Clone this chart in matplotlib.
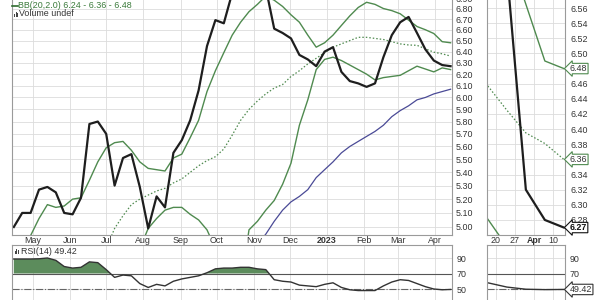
import numpy as np
import matplotlib
matplotlib.use('Agg')
import matplotlib.pyplot as plt
import matplotlib.dates as mdates
from matplotlib.ticker import FixedLocator, FuncFormatter, NullLocator
import datetime as dt

plt.rcParams['font.family'] = ['Liberation Sans', 'DejaVu Sans']

# ---------------- main chart data (weekly, Fridays) ----------------
start_date = dt.date(2022, 4, 15)
n_weeks = 53

close = [5.00, 5.10, 5.10, 5.27, 5.29, 5.25, 5.10, 5.09, 5.21, 5.78,
         5.80, 5.70, 5.30, 5.51, 5.54, 5.29, 4.99, 5.22, 5.14, 5.55,
         5.65, 5.81, 6.06, 6.45, 6.69, 6.66, 6.95, 7.10, 7.20, 7.15,
         7.00, 6.61, 6.57, 6.52, 6.37, 6.33, 6.27, 6.40, 6.44, 6.22,
         6.14, 6.12, 6.09, 6.12, 6.35, 6.55, 6.67, 6.72, 6.57, 6.42,
         6.32, 6.28, 6.27]

bb_upper = [4.70, 4.82, 4.94, 5.06, 5.16, 5.14, 5.15, 5.20, 5.21, 5.34,
            5.48, 5.59, 5.63, 5.64, 5.57, 5.48, 5.43, 5.42, 5.41, 5.51,
            5.54, 5.67, 5.81, 6.05, 6.23, 6.39, 6.55, 6.67, 6.77, 6.84,
            6.92, 6.88, 6.82, 6.74, 6.67, 6.55, 6.44, 6.48, 6.55, 6.64,
            6.73, 6.81, 6.86, 6.84, 6.80, 6.78, 6.75, 6.69, 6.63, 6.60,
            6.565, 6.49, 6.48]

bb_mid = [np.nan] * 11 + [4.85, 4.99, 5.08, 5.16, 5.20, 5.23, 5.26, 5.28, 5.32,
          5.35, 5.40, 5.45, 5.49, 5.52, 5.58, 5.69, 5.81, 5.90, 5.97,
          6.03, 6.08, 6.11, 6.18, 6.23, 6.29, 6.34, 6.39, 6.44, 6.47,
          6.50, 6.53, 6.53, 6.52, 6.51, 6.49, 6.47, 6.46, 6.457, 6.425,
          6.395, 6.38, 6.36]

bb_lower = [np.nan] * 15 + [4.85, 4.99, 5.06, 5.12, 5.14, 5.14, 5.09, 5.05, 4.98,
            4.85, 4.70, 4.60, 4.60, 4.98, 5.04, 5.12, 5.19, 5.31, 5.47,
            5.77, 5.98, 6.24, 6.33, 6.35, 6.32, 6.28, 6.24, 6.20, 6.15,
            6.17, 6.18, 6.19, 6.23, 6.27, 6.245, 6.22, 6.255, 6.24]

ma_purple = [np.nan] * 29 + [4.88, 4.95, 5.04, 5.12, 5.18, 5.22, 5.27, 5.36, 5.42,
             5.48, 5.55, 5.60, 5.64, 5.68, 5.72, 5.77, 5.84, 5.89, 5.93,
             5.98, 6.00, 6.03, 6.05, 6.07]

rsi = [88.7, 88.7, 88.7, 89, 90, 87, 79, 77, 78, 85,
       84, 75, 65, 68, 67, 57, 52, 56, 54, 60,
       63, 65, 67, 71, 76, 77, 77, 78, 78, 76,
       75, 62, 60, 59, 55, 54, 53, 56, 58, 52,
       49, 48, 48, 48, 54, 59, 62, 61, 57, 53,
       50, 49, 49.42]

# ---------------- zoom panel data (last weeks, Fridays) ----------------
zoom_dates = [dt.date(2023, 3, 17), dt.date(2023, 3, 24), dt.date(2023, 3, 31),
              dt.date(2023, 4, 7), dt.date(2023, 4, 14)]
zoom_close = [6.72, 6.61, 6.32, 6.28, 6.27]
zoom_upper = [6.70, 6.64, 6.565, 6.49, 6.48]
zoom_mid = [6.457, 6.425, 6.395, 6.381, 6.36]
zoom_lower = [6.281, 6.245, 6.22, 6.25, 6.24]
zoom_rsi = [58, 52.5, 49.7, 49.2, 49.42]

month_labels = ['May', 'Jun', 'Jul', 'Aug', 'Sep', 'Oct', 'Nov', 'Dec',
                '2023', 'Feb', 'Mar', 'Apr']
zoom_labels = ['20', '27', 'Apr', '10']

legend_bb = 'BB(20,2.0) 6.24 - 6.36 - 6.48'
legend_vol = 'Volume undef'
legend_rsi = 'RSI(14) 49.42'

# ---------------- helpers ----------------
W, H = 600, 300
fig = plt.figure(figsize=(6, 3), dpi=100)
fig.patch.set_facecolor('white')

def ax_px(x0, x1, y0, y1):
    return fig.add_axes([x0 / W, 1 - y1 / H, (x1 - x0) / W, (y1 - y0) / H])

xd = mdates.date2num([start_date + dt.timedelta(days=7 * i) for i in range(n_weeks)])
xz = mdates.date2num(zoom_dates)

GRID = '#dcdcdc'
SPINE = '#9a9a9a'
BLACK = '#1e1e1e'
GREEN = '#4f8a4f'
GREEN_D = '#5c8c5c'
PURPLE = '#4a4a96'
TXT = '#333333'
FS = 6.4

may1 = mdates.date2num(dt.date(2022, 5, 1))
ppd = 402 / 335.0
main_xlim = (may1 - 21 / ppd, may1 + 419 / ppd)
mar20 = mdates.date2num(dt.date(2023, 3, 20))
ppd2 = 57 / 21.0
zoom_xlim = (mar20 - 9 / ppd2, mar20 + 69 / ppd2)

def style(ax):
    for s in ax.spines.values():
        s.set_color(SPINE)
        s.set_linewidth(0.8)
    ax.tick_params(axis='both', length=0, labelsize=FS, colors=TXT)
    ax.yaxis.tick_right()
    ax.grid(True, color=GRID, lw=0.6)
    ax.set_axisbelow(True)

def draw_price(ax, x, c, up, mid, lo, ma=None):
    if ma is not None:
        ax.plot(x, ma, color=PURPLE, lw=0.9)
    ax.plot(x, mid, color=GREEN, lw=0.9, ls=(0, (1.2, 1.6)))
    ax.plot(x, up, color=GREEN, lw=1.0)
    ax.plot(x, lo, color=GREEN, lw=1.0)
    ax.plot(x, c, color=BLACK, lw=1.6)

def draw_rsi(ax, x, vals, ticks):
    r = np.array(vals, dtype=float)
    ax.fill_between(x, r, 70, where=r >= 70, interpolate=True,
                    color=GREEN_D, lw=0)
    ax.axhline(70, color='#555555', lw=0.8)
    ax.axhline(50, color='#666666', lw=0.8, ls='-.')
    ax.plot(x, r, color='#333333', lw=1.0)
    ax.set_ylim(50 - 41 / 0.775, 50 + 44 / 0.775)
    ax.yaxis.set_major_locator(FixedLocator(ticks))
    ax.yaxis.set_major_formatter(FuncFormatter(lambda v, p: '%d' % v))

# ---------------- main price panel ----------------
axp = ax_px(12, 452, -20, 235)
style(axp)
axp.set_yscale('log')
axp.set_ylim(5 * 10 ** (-8 / 1636), 5 * 10 ** (247 / 1636))
axp.yaxis.set_major_locator(FixedLocator(np.round(np.arange(5.0, 6.95, 0.1), 2)))
axp.yaxis.set_minor_locator(NullLocator())
axp.yaxis.set_major_formatter(FuncFormatter(lambda v, p: '%.2f' % v))
axp.tick_params(axis='y', pad=2.5)
draw_price(axp, xd, close, bb_upper, bb_mid, bb_lower, ma_purple)
axp.set_xlim(main_xlim)
mticks = [mdates.date2num(dt.date(2022 + (m > 12), (m - 1) % 12 + 1, 1)) for m in range(5, 17)]
axp.xaxis.set_major_locator(FixedLocator(mticks))
axp.set_xticklabels(month_labels)
axp.tick_params(axis='x', pad=1)
for lab in axp.get_xticklabels():
    if lab.get_text() == '2023':
        lab.set_fontweight('bold')

# ---------------- zoom price panel ----------------
axz = ax_px(487, 565, -20, 235)
style(axz)
draw_price(axz, xz, zoom_close, zoom_upper, zoom_mid, zoom_lower)
axz.set_xlim(zoom_xlim)
axz.set_ylim(6.56 - 227 / 757, 6.56 + 28 / 757)
axz.yaxis.set_major_locator(FixedLocator(np.round(np.arange(6.28, 6.575, 0.02), 2)))
axz.yaxis.set_major_formatter(FuncFormatter(lambda v, p: '%.2f' % v))
axz.tick_params(axis='y', pad=4)
zt = [mar20 + 7 * k for k in range(4)]
axz.xaxis.set_major_locator(FixedLocator(zt))
axz.set_xticklabels(zoom_labels)
axz.tick_params(axis='x', pad=1)
for lab in axz.get_xticklabels():
    if lab.get_text() == 'Apr':
        lab.set_fontweight('bold')

def tag(ax, v, text, ec, bold=False):
    ax.annotate(text, xy=(1.0, v), xycoords=('axes fraction', 'data'),
                xytext=(3.5, 0), textcoords='offset points', va='center', ha='left',
                fontsize=FS, color='#111111' if bold else TXT,
                fontweight='bold' if bold else 'normal', zorder=10,
                bbox=dict(boxstyle='larrow,pad=0.08', fc='white', ec=ec, lw=0.8))

tag(axz, zoom_upper[-1], '%.2f' % zoom_upper[-1], GREEN)
tag(axz, zoom_mid[-1], '%.2f' % zoom_mid[-1], GREEN)
tag(axz, zoom_close[-1], '%.2f' % zoom_close[-1], '#111111', bold=True)

# ---------------- RSI panels ----------------
axr = ax_px(12, 452, 245, 330)
style(axr)
draw_rsi(axr, xd, rsi, [50, 70, 90])
axr.set_xlim(main_xlim)
axr.xaxis.set_major_locator(FixedLocator(mticks))
axr.set_xticklabels([])

axr2 = ax_px(487, 565, 245, 330)
style(axr2)
draw_rsi(axr2, xz, zoom_rsi, [70, 90])
axr2.yaxis.grid(False)
for v in (50, 90):
    axr2.axhline(v, color=GRID, lw=0.6, zorder=0)
axr2.set_xlim(zoom_xlim)
axr2.xaxis.set_major_locator(FixedLocator(zt))
axr2.set_xticklabels([])
tag(axr2, zoom_rsi[-1], '%.2f' % zoom_rsi[-1], '#333333')

# ---------------- legends ----------------
def px(x, y):
    return x / W, 1 - y / H

fig.add_artist(plt.Line2D([12 / W, 18 / W], [1 - 6 / H] * 2, color='#2e6b2e', lw=1.2))
fig.text(*px(18.5, 6), legend_bb, fontsize=FS, color='#3a7a3a', va='center', ha='left')
for k, h in enumerate([3, 5, 4]):
    fig.add_artist(plt.Rectangle(((14 + 1.6 * k) / W, 1 - 17 / H), 1.2 / W, h / H,
                                 color='#444444', lw=0))
fig.text(*px(19, 14), legend_vol, fontsize=FS, color=TXT, va='center', ha='left')
fig.text(*px(21, 251), legend_rsi, fontsize=FS, color=TXT, va='center', ha='left')
for k, h in enumerate([3, 5, 4]):
    fig.add_artist(plt.Rectangle(((14.5 + 1.6 * k) / W, 1 - 254 / H), 1.2 / W, h / H,
                                 color='#444444', lw=0))

fig.savefig('out.png', dpi=100)
